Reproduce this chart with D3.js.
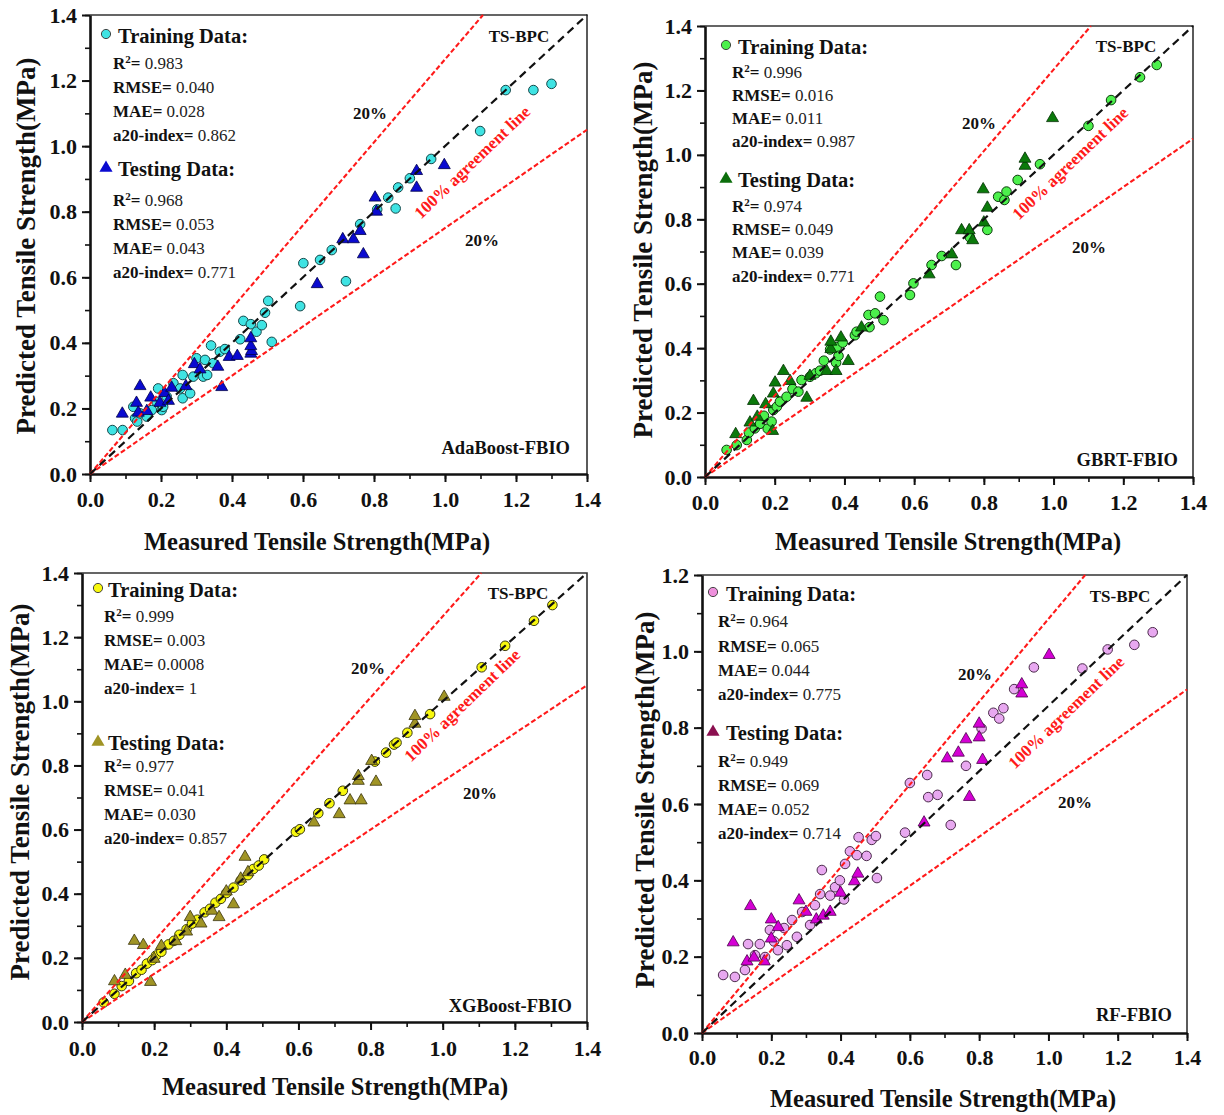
<!DOCTYPE html>
<html>
<head>
<meta charset="utf-8">
<script src="https://cdn.jsdelivr.net/npm/d3@7"></script>
<style>
  html, body { margin: 0; padding: 0; background: #fff; }
  svg { display: block; }
  text { font-family: "Liberation Serif", "Times New Roman", serif; }
</style>
</head>
<body>
<svg id="chart" width="1224" height="1115"></svg>
<script>
// ---- data: [measured, predicted] pairs (MPa) ----
const adaTrain = [[0.063,0.134],[0.092,0.134],[0.122,0.205],[0.127,0.170],[0.133,0.160],[0.141,0.185],[0.160,0.175],[0.174,0.195],[0.188,0.220],[0.192,0.261],[0.202,0.195],[0.206,0.205],[0.216,0.236],[0.235,0.277],[0.254,0.261],[0.261,0.231],[0.261,0.302],[0.282,0.246],[0.291,0.297],[0.300,0.353],[0.319,0.297],[0.324,0.348],[0.330,0.302],[0.341,0.392],[0.347,0.338],[0.366,0.373],[0.380,0.381],[0.423,0.411],[0.432,0.467],[0.453,0.457],[0.469,0.434],[0.484,0.454],[0.493,0.492],[0.502,0.528],[0.512,0.403],[0.592,0.512],[0.601,0.643],[0.648,0.653],[0.681,0.683],[0.721,0.588],[0.761,0.762],[0.809,0.807],[0.840,0.843],[0.861,0.810],[0.868,0.874],[0.901,0.902],[0.961,0.961],[1.099,1.046],[1.171,1.171],[1.249,1.171],[1.300,1.190]];
const adaTest = [[0.091,0.187],[0.131,0.220],[0.136,0.190],[0.141,0.271],[0.160,0.195],[0.171,0.236],[0.197,0.220],[0.210,0.250],[0.221,0.226],[0.230,0.266],[0.270,0.271],[0.294,0.338],[0.310,0.322],[0.360,0.330],[0.371,0.268],[0.392,0.360],[0.415,0.363],[0.453,0.370],[0.455,0.378],[0.453,0.393],[0.453,0.417],[0.640,0.582],[0.712,0.719],[0.742,0.719],[0.761,0.744],[0.770,0.673],[0.803,0.846],[0.807,0.803],[0.920,0.876],[0.920,0.927],[0.998,0.945]];

const gbrtTrain = [[0.062,0.084],[0.091,0.099],[0.120,0.115],[0.126,0.138],[0.143,0.151],[0.158,0.165],[0.169,0.190],[0.180,0.150],[0.191,0.172],[0.196,0.208],[0.206,0.218],[0.215,0.234],[0.234,0.249],[0.251,0.273],[0.268,0.265],[0.277,0.301],[0.301,0.311],[0.318,0.322],[0.330,0.330],[0.341,0.361],[0.359,0.396],[0.376,0.355],[0.378,0.403],[0.383,0.376],[0.395,0.417],[0.430,0.440],[0.435,0.451],[0.469,0.503],[0.472,0.465],[0.488,0.508],[0.502,0.560],[0.512,0.487],[0.588,0.565],[0.598,0.601],[0.650,0.658],[0.679,0.686],[0.720,0.658],[0.760,0.744],[0.810,0.767],[0.841,0.870],[0.859,0.860],[0.865,0.886],[0.897,0.922],[0.961,0.971],[1.100,1.090],[1.165,1.170],[1.248,1.241],[1.296,1.279]];
const gbrtTest = [[0.088,0.136],[0.129,0.172],[0.139,0.239],[0.150,0.190],[0.174,0.229],[0.194,0.146],[0.196,0.262],[0.201,0.296],[0.225,0.332],[0.244,0.301],[0.292,0.249],[0.301,0.317],[0.349,0.332],[0.361,0.400],[0.361,0.423],[0.376,0.332],[0.390,0.436],[0.411,0.363],[0.449,0.467],[0.643,0.632],[0.708,0.694],[0.736,0.769],[0.758,0.769],[0.768,0.738],[0.800,0.793],[0.798,0.896],[0.810,0.839],[0.918,0.969],[0.918,0.991],[0.997,1.117]];

const xgbTrain = [[0.060,0.061],[0.090,0.088],[0.110,0.112],[0.130,0.128],[0.150,0.152],[0.165,0.163],[0.180,0.182],[0.195,0.193],[0.205,0.207],[0.220,0.219],[0.240,0.242],[0.255,0.253],[0.270,0.272],[0.290,0.289],[0.305,0.307],[0.320,0.319],[0.340,0.342],[0.355,0.353],[0.370,0.372],[0.385,0.384],[0.400,0.402],[0.420,0.419],[0.440,0.441],[0.460,0.458],[0.475,0.477],[0.490,0.488],[0.505,0.507],[0.593,0.593],[0.604,0.601],[0.655,0.651],[0.686,0.682],[0.723,0.721],[0.812,0.812],[0.843,0.840],[0.865,0.865],[0.872,0.871],[0.902,0.902],[0.965,0.960],[1.108,1.106],[1.173,1.173],[1.253,1.251],[1.304,1.300]];
const xgbTest = [[0.090,0.130],[0.120,0.150],[0.145,0.256],[0.170,0.243],[0.190,0.128],[0.200,0.200],[0.220,0.240],[0.260,0.255],[0.290,0.285],[0.300,0.330],[0.330,0.310],[0.360,0.350],[0.380,0.330],[0.400,0.410],[0.420,0.370],[0.440,0.450],[0.452,0.518],[0.460,0.470],[0.643,0.625],[0.713,0.651],[0.743,0.694],[0.766,0.755],[0.766,0.770],[0.774,0.694],[0.803,0.817],[0.815,0.752],[0.923,0.933],[0.923,0.957],[1.004,1.017]];

const rfTrain = [[0.061,0.152],[0.095,0.147],[0.124,0.165],[0.133,0.233],[0.153,0.204],[0.167,0.233],[0.182,0.199],[0.196,0.270],[0.208,0.240],[0.219,0.217],[0.237,0.275],[0.245,0.230],[0.260,0.296],[0.274,0.252],[0.289,0.317],[0.312,0.283],[0.326,0.335],[0.341,0.364],[0.346,0.427],[0.370,0.360],[0.384,0.382],[0.398,0.400],[0.410,0.350],[0.413,0.443],[0.427,0.476],[0.447,0.466],[0.452,0.513],[0.475,0.464],[0.490,0.506],[0.502,0.516],[0.505,0.406],[0.586,0.525],[0.600,0.655],[0.650,0.676],[0.653,0.618],[0.680,0.624],[0.718,0.545],[0.762,0.700],[0.807,0.798],[0.841,0.839],[0.858,0.824],[0.870,0.851],[0.901,0.901],[0.958,0.958],[1.098,0.955],[1.171,1.005],[1.248,1.017],[1.301,1.050]];
const rfTest = [[0.090,0.240],[0.130,0.190],[0.140,0.335],[0.150,0.200],[0.180,0.190],[0.200,0.250],[0.200,0.300],[0.220,0.280],[0.280,0.350],[0.300,0.320],[0.330,0.300],[0.350,0.310],[0.370,0.320],[0.400,0.370],[0.440,0.400],[0.450,0.420],[0.641,0.554],[0.708,0.722],[0.740,0.737],[0.762,0.772],[0.772,0.621],[0.800,0.777],[0.800,0.813],[0.810,0.718],[0.923,0.892],[0.923,0.916],[1.002,0.993]];

// ---- metrics printed in each panel ----
const metricNames = ["R2", "RMSE", "MAE", "a20-index"];
const adaStats  = { train: ["0.983", "0.040", "0.028", "0.862"], test: ["0.968", "0.053", "0.043", "0.771"] };
const gbrtStats = { train: ["0.996", "0.016", "0.011", "0.987"], test: ["0.974", "0.049", "0.039", "0.771"] };
const xgbStats  = { train: ["0.999", "0.003", "0.0008", "1"],   test: ["0.977", "0.041", "0.030", "0.857"] };
const rfStats   = { train: ["0.964", "0.065", "0.044", "0.775"], test: ["0.949", "0.069", "0.052", "0.714"] };

// ---- axis ticks ----
const xTicks = [0, 0.2, 0.4, 0.6, 0.8, 1.0, 1.2, 1.4];
const yTicks14 = [0, 0.2, 0.4, 0.6, 0.8, 1.0, 1.2, 1.4];
const yTicks12 = [0, 0.2, 0.4, 0.6, 0.8, 1.0, 1.2];

// ---- reference lines: [x0,y0,x1,y1] in data units ----
const agreeLine14 = [0, 0, 1.4, 1.4];
const upperLine14 = [0, 0, 1.107, 1.4];
const lowerLine14 = [0, 0, 1.4, 1.05];
const agreeLine12 = [0, 0, 1.4, 1.2];
const upperLine12 = [0, 0, 1.106, 1.2];
const lowerLine12 = [0, 0, 1.4, 0.90];

const panels = [
  {
    name: "AdaBoost-FBIO", train: adaTrain, test: adaTest, stats: adaStats,
    ymax: 1.4, yTicks: yTicks14, lines: [agreeLine14, upperLine14, lowerLine14],
    box: { l: 90, r: 587, t: 15, b: 474 },
    trainFill: "#3fe3e3", trainStroke: "#15484a", testFill: "#0a0ad0", testStroke: "#00004a",
    legTri: "#0a0ad0", legCirc: "#3fe3e3",
    leg: { mx: 106, tx: 118, sx: 113, trY: 36, trS: [63, 87, 111, 135], teY: 169, teS: [200, 224, 248, 272] },
    tsbpc: [519, 36], p20a: [370, 113], p20b: [482, 240], agree: [472, 162], model: [570, 448],
    xTitle: [317, 541], yTitle: [26, 246], xLab: 500
  },
  {
    name: "GBRT-FBIO", train: gbrtTrain, test: gbrtTest, stats: gbrtStats,
    ymax: 1.4, yTicks: yTicks14, lines: [agreeLine14, upperLine14, lowerLine14],
    box: { l: 705, r: 1193, t: 26, b: 477 },
    trainFill: "#4cf04c", trainStroke: "#0c3a0c", testFill: "#0b7a0b", testStroke: "#033003",
    legTri: "#0b6e0b", legCirc: "#4cf04c",
    leg: { mx: 726, tx: 738, sx: 732, trY: 47, trS: [72, 95, 118, 141], teY: 180, teS: [206, 229, 252, 276] },
    tsbpc: [1126, 46], p20a: [979, 123], p20b: [1089, 247], agree: [1070, 163], model: [1178, 460],
    xTitle: [948, 541], yTitle: [643, 250], xLab: 503
  },
  {
    name: "XGBoost-FBIO", train: xgbTrain, test: xgbTest, stats: xgbStats,
    ymax: 1.4, yTicks: yTicks14, lines: [agreeLine14, upperLine14, lowerLine14],
    box: { l: 82, r: 587, t: 573, b: 1022 },
    trainFill: "#f8f80e", trainStroke: "#3a3a10", testFill: "#a09425", testStroke: "#3a340c",
    legTri: "#a09425", legCirc: "#f8f80e",
    leg: { mx: 98, tx: 108, sx: 104, trY: 590, trS: [616, 640, 664, 688], teY: 743, teS: [766, 790, 814, 838] },
    tsbpc: [518, 593], p20a: [368, 668], p20b: [480, 793], agree: [462, 705], model: [572, 1006],
    xTitle: [335, 1086], yTitle: [20, 792], xLab: 1049
  },
  {
    name: "RF-FBIO", train: rfTrain, test: rfTest, stats: rfStats,
    ymax: 1.2, yTicks: yTicks12, lines: [agreeLine12, upperLine12, lowerLine12],
    box: { l: 702, r: 1187, t: 575, b: 1033 },
    trainFill: "#e8a8f0", trainStroke: "#4a2a4a", testFill: "#d400d4", testStroke: "#4a004a",
    legTri: "#8b1050", legCirc: "#ee90dc",
    leg: { mx: 713, tx: 726, sx: 718, trY: 594, trS: [621, 646, 670, 694], teY: 733, teS: [761, 785, 809, 833] },
    tsbpc: [1120, 596], p20a: [975, 674], p20b: [1075, 802], agree: [1066, 712], model: [1172, 1015],
    xTitle: [943, 1098], yTitle: [645, 800], xLab: 1058
  }
];

const svg = d3.select("#chart");
const fmt = d3.format(".1f");
const triangle = d3.symbol().type(d3.symbolTriangle).size(62);
const triangleLeg = d3.symbol().type(d3.symbolTriangle).size(75);

panels.forEach(p => {
  const x = d3.scaleLinear().domain([0, 1.4]).range([p.box.l, p.box.r]);
  const y = d3.scaleLinear().domain([0, p.ymax]).range([p.box.b, p.box.t]);
  const g = svg.append("g");

  // frame (top and right)
  g.append("path")
    .attr("d", `M${p.box.l},${p.box.t}H${p.box.r}V${p.box.b}`)
    .attr("fill", "none").attr("stroke", "#333").attr("stroke-width", 1.6);

  // minor ticks
  const xMinor = d3.range(0, 1.41, 0.1);
  const yMinor = d3.range(0, p.ymax + 0.01, 0.1);
  g.append("g").attr("transform", `translate(0,${p.box.b})`)
    .call(d3.axisBottom(x).tickValues(xMinor).tickSize(5).tickFormat(""))
    .call(a => a.select(".domain").remove())
    .selectAll("line").attr("stroke", "#111").attr("stroke-width", 1.6);
  g.append("g").attr("transform", `translate(${p.box.l},0)`)
    .call(d3.axisLeft(y).tickValues(yMinor).tickSize(5).tickFormat(""))
    .call(a => a.select(".domain").remove())
    .selectAll("line").attr("stroke", "#111").attr("stroke-width", 1.6);

  // major axes
  const xa = g.append("g").attr("transform", `translate(0,${p.box.b})`)
    .call(d3.axisBottom(x).tickValues(xTicks).tickSize(8).tickSizeOuter(0).tickPadding(p.xLab - p.box.b - 17).tickFormat(fmt));
  const ya = g.append("g").attr("transform", `translate(${p.box.l},0)`)
    .call(d3.axisLeft(y).tickValues(p.yTicks).tickSize(8).tickSizeOuter(0).tickPadding(5).tickFormat(fmt));
  [xa, ya].forEach(a => {
    a.select(".domain").attr("stroke", "#111").attr("stroke-width", 2.6);
    a.selectAll(".tick line").attr("stroke", "#111").attr("stroke-width", 2);
    a.selectAll(".tick text").attr("font-family", "Liberation Serif").attr("font-weight", "bold")
      .attr("font-size", 22).attr("fill", "#111");
  });

  // axis titles
  g.append("text").attr("x", p.xTitle[0]).attr("y", p.xTitle[1]).attr("dy", "0.35em")
    .attr("text-anchor", "middle").attr("font-weight", "bold").attr("font-size", 24.5).attr("fill", "#111")
    .text("Measured Tensile Strength(MPa)");
  g.append("text").attr("transform", `translate(${p.yTitle[0]},${p.yTitle[1]}) rotate(-90)`).attr("dy", "0.35em")
    .attr("text-anchor", "middle").attr("font-weight", "bold").attr("font-size", 27).attr("fill", "#111")
    .text("Predicted Tensile Strength(MPa)");

  // points
  g.append("g").selectAll("circle").data(p.train).join("circle")
    .attr("cx", d => x(d[0])).attr("cy", d => y(d[1])).attr("r", 4.8)
    .attr("fill", p.trainFill).attr("stroke", p.trainStroke).attr("stroke-width", 1);
  g.append("g").selectAll("path").data(p.test).join("path")
    .attr("d", triangle)
    .attr("transform", d => `translate(${x(d[0])},${y(d[1]) + 1})`)
    .attr("fill", p.testFill).attr("stroke", p.testStroke).attr("stroke-width", 0.8);

  // reference lines
  const [ag, up, lo] = p.lines;
  g.append("line").attr("x1", x(up[0])).attr("y1", y(up[1])).attr("x2", x(up[2])).attr("y2", y(up[3]))
    .attr("stroke", "#ff1a1a").attr("stroke-width", 2.1).attr("stroke-dasharray", "5,2.5");
  g.append("line").attr("x1", x(lo[0])).attr("y1", y(lo[1])).attr("x2", x(lo[2])).attr("y2", y(lo[3]))
    .attr("stroke", "#ff1a1a").attr("stroke-width", 2.1).attr("stroke-dasharray", "5,2.5");
  g.append("line").attr("x1", x(ag[0])).attr("y1", y(ag[1])).attr("x2", x(ag[2])).attr("y2", y(ag[3]))
    .attr("stroke", "#111").attr("stroke-width", 2.2).attr("stroke-dasharray", "8,5");

  // annotations
  const bold = (xy, txt, size, anchor) => g.append("text").attr("x", xy[0]).attr("y", xy[1]).attr("dy", "0.35em")
    .attr("text-anchor", anchor || "middle").attr("font-weight", "bold").attr("font-size", size).attr("fill", "#111").text(txt);
  bold(p.tsbpc, "TS-BPC", 17);
  bold(p.p20a, "20%", 17);
  bold(p.p20b, "20%", 17);
  bold(p.model, p.name, 18.5, "end");
  g.append("text").attr("transform", `translate(${p.agree[0]},${p.agree[1]}) rotate(-44)`).attr("dy", "0.35em")
    .attr("text-anchor", "middle").attr("font-weight", "bold").attr("font-size", 17).attr("fill", "#ff1a1a")
    .text("100% agreement line");

  // legend blocks with metrics
  const L = p.leg;
  g.append("circle").attr("cx", L.mx).attr("cy", L.trY - 2).attr("r", 4.6)
    .attr("fill", p.legCirc).attr("stroke", "#333").attr("stroke-width", 0.9);
  g.append("path").attr("d", triangleLeg).attr("transform", `translate(${L.mx},${L.teY - 1})`)
    .attr("fill", p.legTri);
  bold([L.tx, L.trY], "Training Data:", 20.5, "start");
  bold([L.tx, L.teY], "Testing Data:", 20.5, "start");

  const metricRows = (vals, ys) => vals.forEach((v, i) => {
    const t = g.append("text").attr("x", L.sx).attr("y", ys[i]).attr("dy", "0.35em")
      .attr("font-size", 17).attr("fill", "#111");
    if (metricNames[i] === "R2") {
      t.append("tspan").attr("font-weight", "bold").text("R");
      t.append("tspan").attr("font-weight", "bold").attr("font-size", 11).attr("dy", "-0.55em").text("2");
      t.append("tspan").attr("font-weight", "bold").attr("dy", "0.35em").text("= ");
    } else {
      t.append("tspan").attr("font-weight", "bold").text(metricNames[i] + "= ");
    }
    t.append("tspan").attr("fill", "#222").text(v);
  });
  metricRows(p.stats.train, L.trS);
  metricRows(p.stats.test, L.teS);
});
</script>
</body>
</html>
